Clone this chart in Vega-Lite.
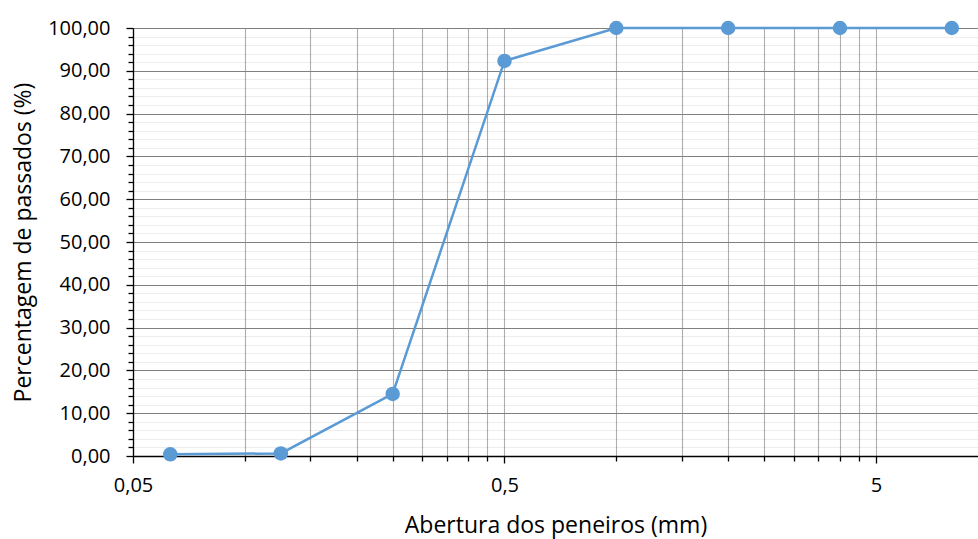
{
  "$schema": "https://vega.github.io/schema/vega-lite/v6.json",
  "width": 845,
  "height": 428,
  "autosize": {"type": "none"},
  "padding": {"left": 133, "top": 28, "right": 0, "bottom": 83},
  "background": "white",
  "config": {
    "view": {"stroke": null},
    "font": "Open Sans",
    "axis": {
      "labelFont": "Open Sans",
      "titleFont": "Open Sans",
      "labelFontSize": 20,
      "titleFontSize": 23,
      "labelColor": "#000000",
      "titleColor": "#000000",
      "titleFontWeight": "normal",
      "domainColor": "#000000",
      "domainWidth": 1.3,
      "tickColor": "#000000",
      "tickWidth": 1.3,
      "gridWidth": 1.1
    }
  },
  "data": {
    "values": [
      {"abertura": 0.063, "passados": 0.4},
      {"abertura": 0.125, "passados": 0.6},
      {"abertura": 0.25, "passados": 14.5},
      {"abertura": 0.5, "passados": 92.3},
      {"abertura": 1, "passados": 100},
      {"abertura": 2, "passados": 100},
      {"abertura": 4, "passados": 100},
      {"abertura": 8, "passados": 100}
    ]
  },
  "mark": {
    "type": "line",
    "color": "#5B9BD5",
    "strokeWidth": 2.5,
    "clip": false,
    "point": {"filled": true, "size": 210, "color": "#5B9BD5", "opacity": 1}
  },
  "encoding": {
    "x": {
      "field": "abertura",
      "type": "quantitative",
      "scale": {"type": "log", "domain": [0.05, 9.41], "nice": false, "zero": false},
      "axis": {
        "title": "Abertura dos peneiros (mm)",
        "values": [0.05, 0.1, 0.15, 0.2, 0.25, 0.3, 0.35, 0.4, 0.45, 0.5, 1, 1.5, 2, 2.5, 3, 3.5, 4, 4.5, 5],
        "labelExpr": "datum.value == 0.05 ? '0,05' : datum.value == 0.5 ? '0,5' : datum.value == 5 ? '5' : ''",
        "labelFlush": false,
        "labelOverlap": false,
        "labelPadding": 12,
        "titlePadding": 19,
        "grid": true,
        "gridColor": "#AEAEAE",
        "tickSize": {"condition": {"test": "datum.value == 0.05 || datum.value == 0.5 || datum.value == 5", "value": 7}, "value": 5}
      }
    },
    "y": {
      "field": "passados",
      "type": "quantitative",
      "scale": {"domain": [0, 100], "nice": false},
      "axis": {
        "title": "Percentagem de passados (%)",
        "values": [0, 2, 4, 6, 8, 10, 12, 14, 16, 18, 20, 22, 24, 26, 28, 30, 32, 34, 36, 38, 40, 42, 44, 46, 48, 50, 52, 54, 56, 58, 60, 62, 64, 66, 68, 70, 72, 74, 76, 78, 80, 82, 84, 86, 88, 90, 92, 94, 96, 98, 100],
        "labelExpr": "datum.value % 10 == 0 ? replace(format(datum.value, '.2f'), '.', ',') : ''",
        "labelOverlap": false,
        "labelPadding": 16,
        "titlePadding": 12,
        "grid": true,
        "gridColor": {"condition": {"test": "datum.value % 10 == 0", "value": "#808080"}, "value": "rgba(0,0,0,0.07)"},
        "tickSize": {"condition": {"test": "datum.value % 10 == 0", "value": 7}, "value": 5}
      }
    }
  }
}
